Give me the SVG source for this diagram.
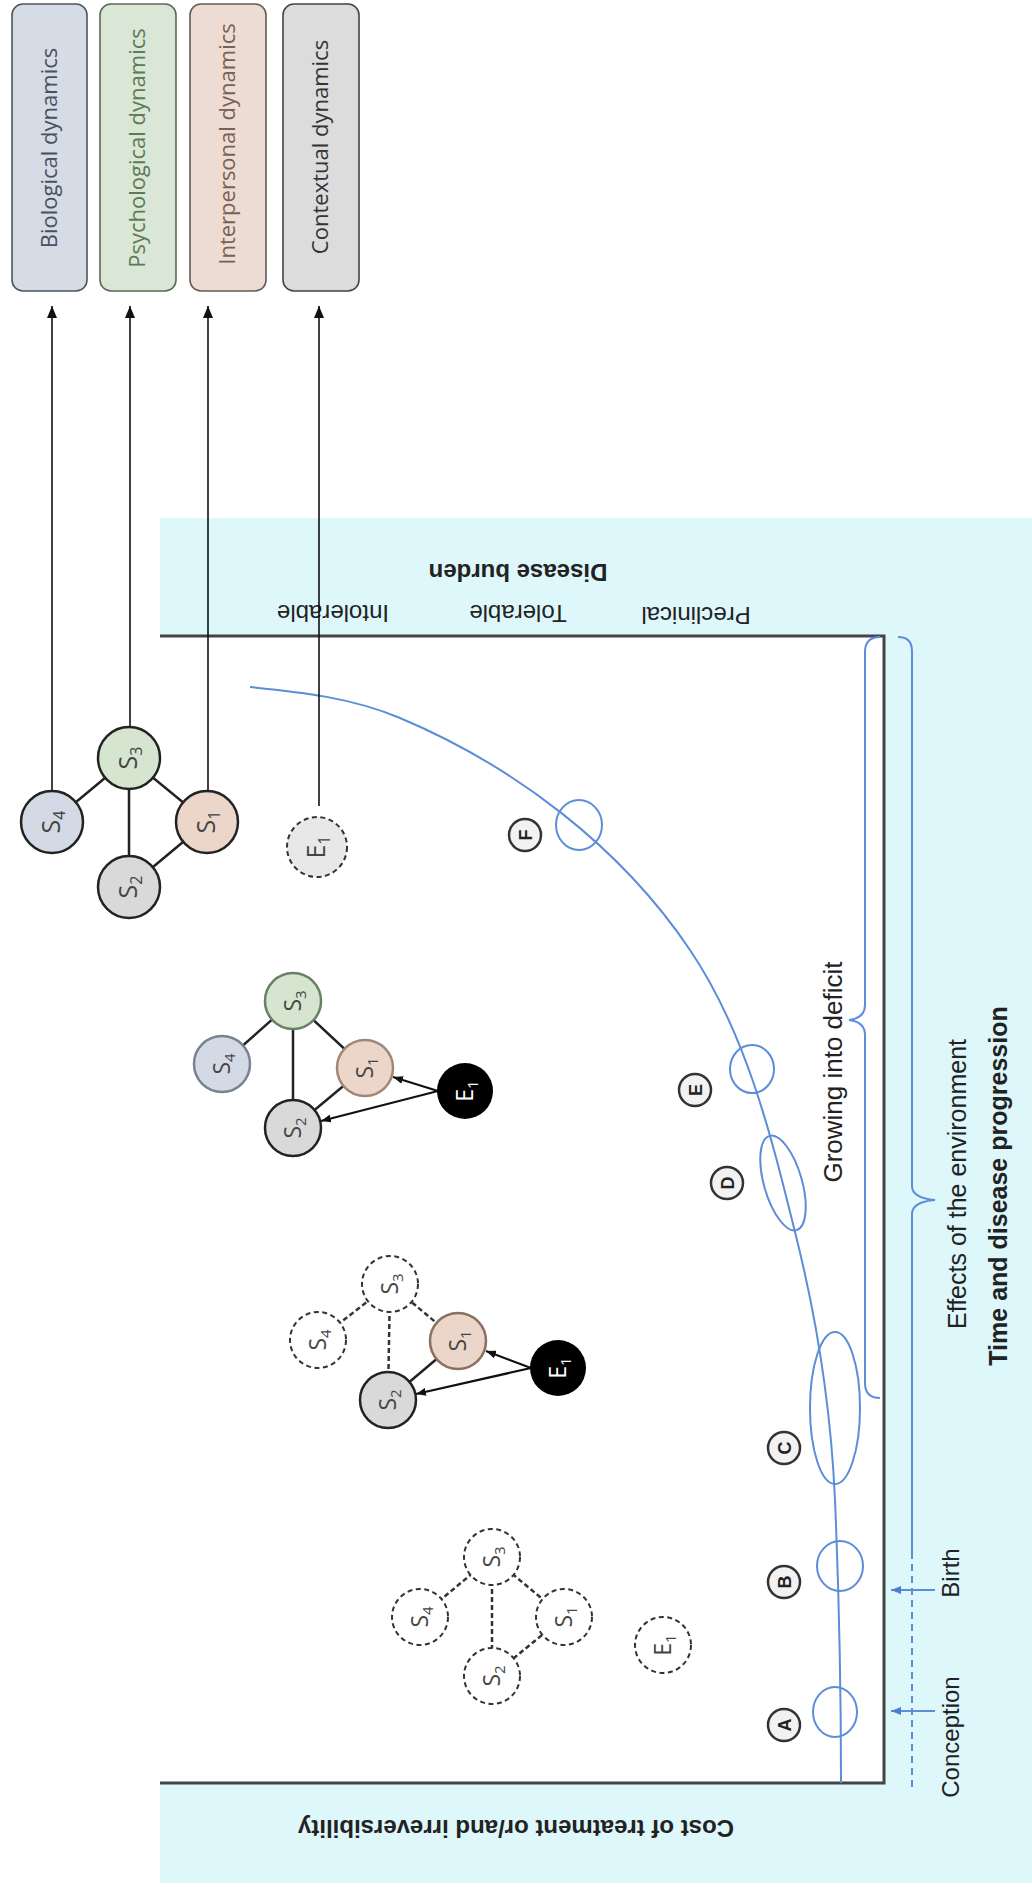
<svg xmlns="http://www.w3.org/2000/svg" width="1032" height="1887" viewBox="0 0 1032 1887">
<style>
.box{stroke-width:1.6}
.bl{font-family:"Open Sans","Noto Sans",sans-serif;font-size:22px;text-anchor:middle}
.ax{font-family:"Liberation Sans",Arial,sans-serif;font-size:24px;fill:#222;text-anchor:middle}
.b{font-weight:bold}
.nd{stroke:#222;stroke-width:2.5}
.dn{stroke:#333;stroke-width:2;stroke-dasharray:5 3.5;fill:#fff}
.ed{stroke:#222;stroke-width:2.5;fill:none}
.ded{stroke:#333;stroke-width:2.5;stroke-dasharray:5 3;fill:none}
.blue{fill:none;stroke:#5b8dd9;stroke-width:2}
.nl{font-family:"Open Sans","Noto Sans",sans-serif;font-size:25px;fill:#444;text-anchor:middle}
.ns{font-size:23px}
.mk{font-family:"Liberation Sans",Arial,sans-serif;font-weight:bold;font-size:18px;fill:#222;text-anchor:middle}
.mc{fill:#f2f2f2;stroke:#333;stroke-width:2.5}
.ar{stroke:#111;stroke-width:2.2;fill:none;marker-end:url(#sa)}
.lk{stroke:#111;stroke-width:1.6;fill:none;marker-end:url(#ba)}
</style>
<defs>
<marker id="ba" viewBox="0 0 12 10" refX="12" refY="5" markerWidth="12" markerHeight="10" markerUnits="userSpaceOnUse" orient="auto"><path d="M0,0 L12,5 L0,10 z" fill="#111"/></marker>
<marker id="sa" viewBox="0 0 10 8" refX="10" refY="4" markerWidth="10" markerHeight="8" markerUnits="userSpaceOnUse" orient="auto"><path d="M0,0 L10,4 L0,8 z" fill="#111"/></marker>
<marker id="bla" viewBox="0 0 10 8" refX="10" refY="4" markerWidth="10" markerHeight="8" markerUnits="userSpaceOnUse" orient="auto"><path d="M0,0 L10,4 L0,8 z" fill="#4a7fd4"/></marker>
</defs>
<rect width="1032" height="1887" fill="#fff"/>

<g id="background">
<rect x="160" y="518" width="872" height="1365" fill="#ddf7fa"/>
<rect x="160" y="636" width="724" height="1147" fill="#fff"/>
<path d="M160 636 H884 V1783 H160" fill="none" stroke="#444" stroke-width="3"/>
</g>

<g id="boxes">
<g id="box-bio"><rect class="box" x="12" y="4" width="75" height="287" rx="11" fill="#d6dce6" stroke="#50555c"/>
<text class="bl" x="50" y="155" fill="#4a5060" transform="rotate(-90 50 148)">Biological dynamics</text></g>
<g id="box-psy"><rect class="box" x="100" y="4" width="76" height="287" rx="11" fill="#dae7d6" stroke="#5a6a58"/>
<text class="bl" x="138" y="155" fill="#5b7a57" transform="rotate(-90 138 148)">Psychological dynamics</text></g>
<g id="box-int"><rect class="box" x="190" y="4" width="76" height="287" rx="11" fill="#eddcd3" stroke="#6a5a55"/>
<text class="bl" x="228" y="151" fill="#7a5f55" transform="rotate(-90 228 144)">Interpersonal dynamics</text></g>
<g id="box-ctx"><rect class="box" x="283" y="4" width="76" height="287" rx="11" fill="#dcdcdc" stroke="#444"/>
<text class="bl" x="321" y="154" fill="#333" transform="rotate(-90 321 147)">Contextual dynamics</text></g>
</g>

<g id="axis-labels">
<text class="ax b" x="518" y="580" transform="rotate(180 518 572)">Disease burden</text>
<text class="ax" x="333" y="621" transform="rotate(180 333 613)">Intolerable</text>
<text class="ax" x="518" y="621" transform="rotate(180 518 613)">Tolerable</text>
<text class="ax" x="696" y="623" transform="rotate(180 696 615)">Preclinical</text>
<text class="ax b" x="516" y="1836" transform="rotate(180 516 1828)">Cost of treatment or/and irreversibility</text>
<text class="ax" x="833" y="1081" style="font-size:26px" transform="rotate(-90 833 1072)">Growing into deficit</text>
<text class="ax" x="957" y="1193" style="font-size:25px" transform="rotate(-90 957 1184)">Effects of the environment</text>
<text class="ax b" x="998" y="1195" style="font-size:25px" transform="rotate(-90 998 1186)">Time and disease progression</text>
<text class="ax" x="950" y="1582" transform="rotate(-90 950 1573)">Birth</text>
<text class="ax" x="950" y="1746" transform="rotate(-90 950 1737)">Conception</text>
</g>

<g id="progression">
<path class="blue" d="M841 1783 C841 1689 839 1594 835 1500 C831 1410 817 1319 795 1232 C771 1135 746 1033 690 950 C621 847 514 766 400 718 C353 698 301 692 250 687"/>
<ellipse class="blue" cx="835" cy="1712" rx="22" ry="25"/>
<ellipse class="blue" cx="840" cy="1566" rx="23" ry="25"/>
<ellipse class="blue" cx="835" cy="1408" rx="25" ry="76"/>
<ellipse class="blue" cx="783" cy="1183" rx="19" ry="49" transform="rotate(-16 783 1183)"/>
<ellipse class="blue" cx="752" cy="1069" rx="22" ry="24"/>
<ellipse class="blue" cx="579" cy="825" rx="23" ry="25"/>
<path class="blue" d="M880 637 Q865 637 865 652 L865 1005 Q865 1018 849 1020 Q865 1022 865 1035 L865 1383 Q865 1398 880 1398"/>
<path class="blue" d="M898 637 Q912 637 912 651 L912 1186 Q912 1198 935 1200 Q912 1202 912 1214 L912 1552"/>
<path class="blue" d="M912 1552 V1790" stroke-dasharray="7 5"/>
<path class="blue" d="M935 1590 H891" marker-end="url(#bla)"/>
<path class="blue" d="M935 1711 H891" marker-end="url(#bla)"/>
</g>

<g id="stage-markers">
<g id="mA"><circle class="mc" cx="784" cy="1725" r="16"/><text class="mk" x="784" y="1731.5" transform="rotate(-90 784 1725)">A</text></g>
<g id="mB"><circle class="mc" cx="784" cy="1582" r="16"/><text class="mk" x="784" y="1588.5" transform="rotate(-90 784 1582)">B</text></g>
<g id="mC"><circle class="mc" cx="784" cy="1448" r="16"/><text class="mk" x="784" y="1454.5" transform="rotate(-90 784 1448)">C</text></g>
<g id="mD"><circle class="mc" cx="727" cy="1183" r="16"/><text class="mk" x="727" y="1189.5" transform="rotate(-90 727 1183)">D</text></g>
<g id="mE"><circle class="mc" cx="695" cy="1090" r="16"/><text class="mk" x="695" y="1096.5" transform="rotate(-90 695 1090)">E</text></g>
<g id="mF"><circle class="mc" cx="525" cy="835" r="16"/><text class="mk" x="525" y="841.5" transform="rotate(-90 525 835)">F</text></g>
</g>

<g id="connectors">
<path class="lk" d="M52 791 V306"/>
<path class="lk" d="M130 727 V306"/>
<path class="lk" d="M208 791 V306"/>
<path class="lk" d="M319 806 V306"/>
<path class="ed" d="M52 822 L129 758 L207 822 L129 887 M129 758 V887"/>
<path class="ed" d="M222 1064 L293 1001 L365 1068 L293 1128 M293 1001 V1128"/>
<path class="ar" d="M438 1091 L393 1077"/>
<path class="ar" d="M438 1091 L321 1121"/>
<path class="ded" d="M318 1340 L390 1284 L458 1341 M390 1284 L388 1400"/>
<path class="ed" d="M458 1341 L388 1400"/>
<path class="ar" d="M531 1368 L486 1351"/>
<path class="ar" d="M531 1368 L416 1394"/>
<path class="ded" d="M420 1617 L492 1557 L564 1617 L492 1676 M492 1557 V1676"/>
</g>

<g id="cluster-F">
<g id="f-s4"><circle class="nd" cx="52" cy="822" r="31" fill="#d3dae6"/><text class="nl" x="52" y="830" fill="#4a5060" transform="rotate(-90 52 822)">S<tspan font-size="16" dy="5">4</tspan></text></g>
<g id="f-s3"><circle class="nd" cx="129" cy="758" r="31" fill="#d5e5d0"/><text class="nl" x="129" y="766" fill="#4a6a48" transform="rotate(-90 129 758)">S<tspan font-size="16" dy="5">3</tspan></text></g>
<g id="f-s1"><circle class="nd" cx="207" cy="822" r="31" fill="#ecd6c9"/><text class="nl" x="207" y="830" fill="#6a5048" transform="rotate(-90 207 822)">S<tspan font-size="16" dy="5">1</tspan></text></g>
<g id="f-s2"><circle class="nd" cx="129" cy="887" r="31" fill="#d9d9d9"/><text class="nl" x="129" y="895" fill="#333" transform="rotate(-90 129 887)">S<tspan font-size="16" dy="5">2</tspan></text></g>
<g id="f-e1"><circle class="dn" cx="317" cy="847" r="30" style="fill:#e8e8e8"/><text class="nl" x="317" y="855" fill="#444" transform="rotate(-90 317 847)">E<tspan font-size="16" dy="5">1</tspan></text></g>
</g>

<g id="cluster-D">
<g id="d-s4"><circle cx="222" cy="1064" r="28" fill="#d3dae6" stroke="#7a8290" stroke-width="2.5"/><text class="nl ns" x="222" y="1072" fill="#4a5060" transform="rotate(-90 222 1064)">S<tspan font-size="15" dy="5">4</tspan></text></g>
<g id="d-s3"><circle cx="293" cy="1001" r="28" fill="#d5e5d0" stroke="#6a8066" stroke-width="2.5"/><text class="nl ns" x="293" y="1009" fill="#4a6a48" transform="rotate(-90 293 1001)">S<tspan font-size="15" dy="5">3</tspan></text></g>
<g id="d-s1"><circle cx="365" cy="1068" r="28" fill="#ecd6c9" stroke="#a08878" stroke-width="2.5"/><text class="nl ns" x="365" y="1076" fill="#6a5048" transform="rotate(-90 365 1068)">S<tspan font-size="15" dy="5">1</tspan></text></g>
<g id="d-s2"><circle class="nd" cx="293" cy="1128" r="28" fill="#d9d9d9"/><text class="nl ns" x="293" y="1136" fill="#333" transform="rotate(-90 293 1128)">S<tspan font-size="15" dy="5">2</tspan></text></g>
<g id="d-e1"><circle cx="465" cy="1091" r="28" fill="#000"/><text class="nl ns" x="465" y="1099" style="fill:#fff" transform="rotate(-90 465 1091)">E<tspan font-size="15" dy="5">1</tspan></text></g>
</g>

<g id="cluster-C">
<g id="c-s4"><circle class="dn" cx="318" cy="1340" r="28"/><text class="nl ns" x="318" y="1348" fill="#333" transform="rotate(-90 318 1340)">S<tspan font-size="15" dy="5">4</tspan></text></g>
<g id="c-s3"><circle class="dn" cx="390" cy="1284" r="28"/><text class="nl ns" x="390" y="1292" fill="#333" transform="rotate(-90 390 1284)">S<tspan font-size="15" dy="5">3</tspan></text></g>
<g id="c-s1"><circle cx="458" cy="1341" r="28" fill="#ecd6c9" stroke="#8a7060" stroke-width="2.5"/><text class="nl ns" x="458" y="1349" fill="#6a5048" transform="rotate(-90 458 1341)">S<tspan font-size="15" dy="5">1</tspan></text></g>
<g id="c-s2"><circle class="nd" cx="388" cy="1400" r="28" fill="#d9d9d9"/><text class="nl ns" x="388" y="1408" fill="#333" transform="rotate(-90 388 1400)">S<tspan font-size="15" dy="5">2</tspan></text></g>
<g id="c-e1"><circle cx="558" cy="1368" r="28" fill="#000"/><text class="nl ns" x="558" y="1376" style="fill:#fff" transform="rotate(-90 558 1368)">E<tspan font-size="15" dy="5">1</tspan></text></g>
</g>

<g id="cluster-A">
<g id="a-s4"><circle class="dn" cx="420" cy="1617" r="28"/><text class="nl ns" x="420" y="1625" fill="#333" transform="rotate(-90 420 1617)">S<tspan font-size="15" dy="5">4</tspan></text></g>
<g id="a-s3"><circle class="dn" cx="492" cy="1557" r="28"/><text class="nl ns" x="492" y="1565" fill="#333" transform="rotate(-90 492 1557)">S<tspan font-size="15" dy="5">3</tspan></text></g>
<g id="a-s1"><circle class="dn" cx="564" cy="1617" r="28"/><text class="nl ns" x="564" y="1625" fill="#333" transform="rotate(-90 564 1617)">S<tspan font-size="15" dy="5">1</tspan></text></g>
<g id="a-s2"><circle class="dn" cx="492" cy="1676" r="28"/><text class="nl ns" x="492" y="1684" fill="#333" transform="rotate(-90 492 1676)">S<tspan font-size="15" dy="5">2</tspan></text></g>
<g id="a-e1"><circle class="dn" cx="663" cy="1645" r="28"/><text class="nl ns" x="663" y="1653" fill="#333" transform="rotate(-90 663 1645)">E<tspan font-size="15" dy="5">1</tspan></text></g>
</g>
</svg>
